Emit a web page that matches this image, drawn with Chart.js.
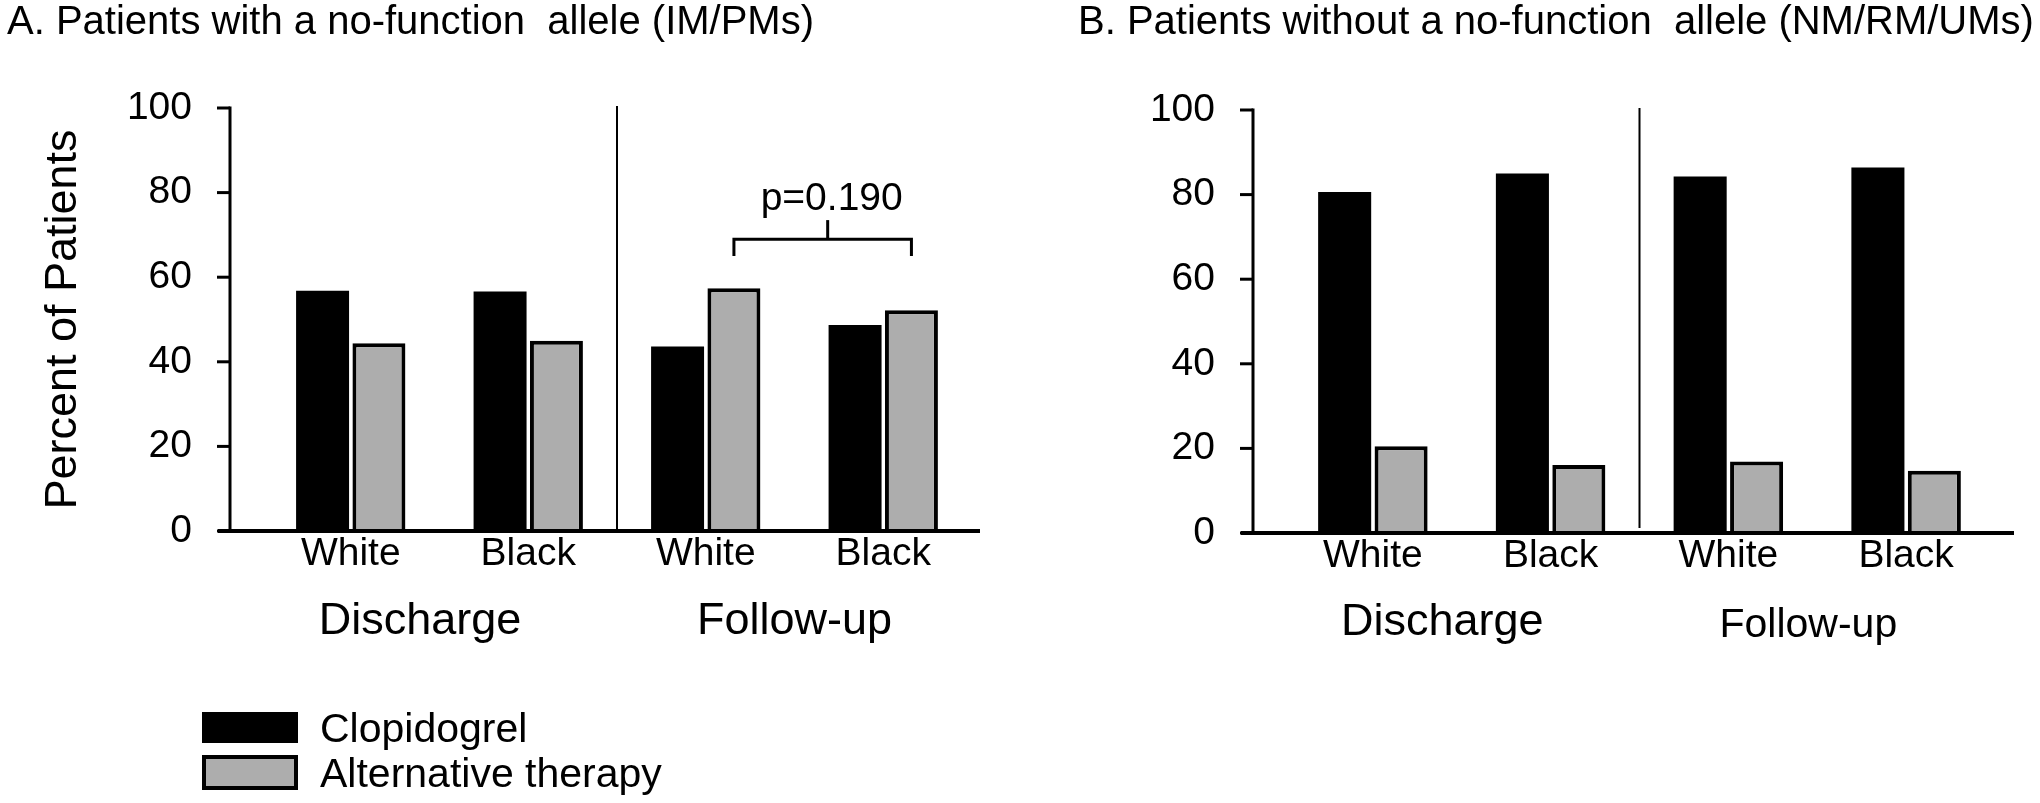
<!DOCTYPE html>
<html>
<head>
<meta charset="utf-8">
<script src="https://cdn.jsdelivr.net/npm/chart.js@4.4.1/dist/chart.umd.min.js"></script>
<style>
  html, body { margin: 0; padding: 0; background: #fff; }
  #wrap { position: relative; width: 2040px; height: 803px; overflow: hidden; }
  canvas { position: absolute; top: 0; }
</style>
</head>
<body>
<div id="wrap">
  <canvas id="chartA" width="1020" height="803" style="left:0;width:1020px;height:803px"></canvas>
  <canvas id="chartB" width="1020" height="803" style="left:1020px;width:1020px;height:803px"></canvas>
</div>
<script>
const FONT = "'Liberation Sans', Arial, Helvetica, sans-serif";

// ---- data ----
const raceLabels   = ['White', 'Black', 'White', 'Black'];
const timepoints   = ['Discharge', 'Follow-up'];
const seriesNames  = ['Clopidogrel', 'Alternative therapy'];
const clopidogrelA = [56.8, 56.6, 43.6, 48.7];
const alternativeA = [44.4, 45.0, 57.4, 52.2];
const clopidogrelB = [80.6, 85.0, 84.3, 86.4];
const alternativeB = [20.5, 16.1, 16.9, 14.7];
const yTicks       = [0, 20, 40, 60, 80, 100];
const pLabel       = 'p=0.190';

const COLORS = { clop: '#000000', alt: '#adadad', ink: '#000000' };

// layout of each panel (pixels inside its own canvas)
const panels = [
  {
    id: 'chartA',
    title: 'A. Patients with a no-function  allele (IM/PMs)',
    titleX: 7,
    yTitle: 'Percent of Patients',
    clop: clopidogrelA, alt: alternativeA,
    areaLeft: 262, padRight: 48, top: 108, bottom: 531,
    axisGap: 32, axisExtRight: 8, dividerStop: 0,
    groupPos: [0.39, 2.5], groupSize: [45, 45], groupBase: [634, 634],
    bracket: true, legend: true,
  },
  {
    id: 'chartB',
    title: 'B. Patients without a no-function  allele (NM/RM/UMs)',
    titleX: 58,
    yTitle: '',
    clop: clopidogrelB, alt: alternativeB,
    areaLeft: 264, padRight: 45, top: 110, bottom: 533,
    axisGap: 31, axisExtRight: 19, dividerStop: 5,
    groupPos: [0.39, 2.45], groupSize: [45, 41], groupBase: [635, 637],
    bracket: false, legend: false,
  },
];

const X_AXIS_H = 60;

function line(ctx, x1, y1, x2, y2) {
  ctx.beginPath();
  ctx.moveTo(x1, y1);
  ctx.lineTo(x2, y2);
  ctx.stroke();
}

/** Axes, divider, titles, group labels, bracket and legend */
function makeDecor(p) {
  return {
    id: 'decor',
    afterDatasetsDraw(chart) {
      const { ctx, chartArea: a, scales: { x, y } } = chart;
      const ax = a.left - p.axisGap;
      const y0 = y.getPixelForValue(0);
      const yTop = y.getPixelForValue(100);
      ctx.save();
      ctx.strokeStyle = COLORS.ink;
      ctx.fillStyle = COLORS.ink;
      ctx.lineCap = 'butt';

      // y axis + tick marks
      ctx.lineWidth = 3;
      line(ctx, ax, yTop - 1.5, ax, y0);
      yTicks.forEach(v => {
        const py = y.getPixelForValue(v);
        line(ctx, ax - 13, py, ax, py);
      });

      // x axis
      ctx.lineWidth = 4;
      line(ctx, ax - 12, y0, a.right + p.axisExtRight, y0);

      // divider between Discharge and Follow-up
      ctx.lineWidth = 2;
      const dx = x.getPixelForValue(1.5);
      line(ctx, dx, yTop - 2, dx, y0 - p.dividerStop);

      // panel title
      ctx.font = `40px ${FONT}`;
      ctx.textAlign = 'left';
      ctx.textBaseline = 'alphabetic';
      ctx.fillText(p.title, p.titleX, 34);

      // group labels
      ctx.textAlign = 'center';
      timepoints.forEach((t, i) => {
        ctx.font = `${p.groupSize[i]}px ${FONT}`;
        ctx.fillText(t, x.getPixelForValue(p.groupPos[i]), p.groupBase[i]);
      });

      // significance bracket over the follow-up alternative-therapy bars
      if (p.bracket) {
        const m = chart.getDatasetMeta(1);
        const bx1 = m.data[2].x, bx2 = m.data[3].x;
        const yb = y.getPixelForValue(69);
        const yl = y.getPixelForValue(65);
        const yt = y.getPixelForValue(73.5);
        ctx.lineWidth = 3;
        ctx.beginPath();
        ctx.moveTo(bx1, yl);
        ctx.lineTo(bx1, yb);
        ctx.lineTo(bx2, yb);
        ctx.lineTo(bx2, yl);
        ctx.stroke();
        const mid = (bx1 + bx2) / 2 + 5;
        line(ctx, mid, yb, mid, yt);
        ctx.font = `39px ${FONT}`;
        ctx.fillText(pLabel, mid + 4, y.getPixelForValue(76));
      }

      // legend
      if (p.legend) {
        const ds = chart.data.datasets;
        // Clopidogrel
        ctx.fillStyle = ds[0].backgroundColor;
        ctx.fillRect(202, 712, 96, 31);
        // Alternative therapy (outlined)
        ctx.fillStyle = ds[1].borderColor;
        ctx.fillRect(202, 755, 96, 35);
        ctx.fillStyle = ds[1].backgroundColor;
        ctx.fillRect(206, 759, 88, 27);
        ctx.fillStyle = COLORS.ink;
        ctx.textAlign = 'left';
        ctx.font = `41px ${FONT}`;
        ctx.fillText(ds[0].label, 320, 742);
        ctx.fillText(ds[1].label, 320, 787);
      }
      ctx.restore();
    },
  };
}

panels.forEach(p => {
  new Chart(document.getElementById(p.id), {
    type: 'bar',
    data: {
      labels: raceLabels,
      datasets: [
        {
          label: seriesNames[0], data: p.clop,
          backgroundColor: COLORS.clop, borderWidth: 0,
          categoryPercentage: 0.635, barPercentage: 0.94,
        },
        {
          label: seriesNames[1], data: p.alt,
          backgroundColor: COLORS.alt, borderColor: COLORS.ink, borderWidth: 4,
          categoryPercentage: 0.635, barPercentage: 0.94,
        },
      ],
    },
    options: {
      responsive: false,
      animation: false,
      devicePixelRatio: 1,
      layout: { padding: { left: 0, right: p.padRight, top: p.top, bottom: 803 - p.bottom - X_AXIS_H } },
      plugins: { legend: { display: false }, tooltip: { enabled: false }, title: { display: false } },
      scales: {
        x: {
          offset: true,
          grid: { display: false, drawTicks: false },
          border: { display: false },
          ticks: { color: COLORS.ink, font: { family: FONT, size: 39 }, padding: 0, autoSkip: false, maxRotation: 0 },
          afterFit: s => { s.height = X_AXIS_H; },
        },
        y: {
          min: 0, max: 100,
          grid: { display: false, drawTicks: false },
          border: { display: false },
          ticks: { stepSize: 20, color: COLORS.ink, font: { family: FONT, size: 39 }, padding: p.axisGap + 38 },
          title: {
            display: !!p.yTitle, text: p.yTitle, color: COLORS.ink,
            font: { family: FONT, size: 45 }, padding: { top: 37, bottom: 0 },
          },
          afterBuildTicks: s => { s.ticks = yTicks.map(v => ({ value: v })); },
          afterFit: s => { s.width = p.areaLeft; },
        },
      },
    },
    plugins: [makeDecor(p)],
  });
});
</script>
</body>
</html>
